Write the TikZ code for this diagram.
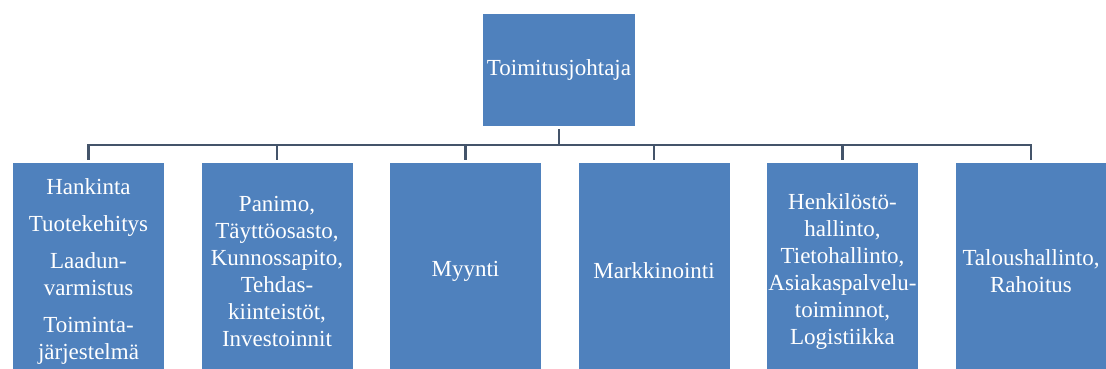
\documentclass[tikz,border=0pt]{standalone}
\usepackage{fontspec}
\setmainfont{Liberation Serif}
\usetikzlibrary{positioning}
\definecolor{boxblue}{RGB}{79,129,189}
\definecolor{linkgray}{RGB}{68,84,106}

\begin{document}
\begin{tikzpicture}[x=1pt, y=-1pt,
    unit/.style={fill=boxblue, text=white, align=center, inner xsep=0pt, minimum width=151pt, minimum height=216pt, outer sep=3pt, font=\fontsize{23}{27}\selectfont},
    link/.style={draw=linkgray, line width=2.5pt},
    node distance=31.5pt
]
\useasboundingbox (0,0) rectangle (1106,369);
\clip (0,0) rectangle (1106,369);

\node[unit, minimum width=152pt, minimum height=112pt] (ceo) at (559,70) {Toimitusjohtaja};

\node[unit] (u1) at (88.5,271) {Hankinta\\[10pt]Tuotekehitys\\[10pt]Laadun-\\varmistus\\[10pt]Toiminta-\\järjestelmä};
\node[unit, right=of u1] (u2) {Panimo,\\Täyttöosasto,\\Kunnossapito,\\Tehdas-\\kiinteistöt,\\Investoinnit};
\node[unit, right=of u2] (u3) {Myynti};
\node[unit, right=of u3] (u4) {Markkinointi};
\node[unit, right=of u4] (u5) {Henkilöstö-\\hallinto,\\Tietohallinto,\\Asiakaspalvelu-\\toiminnot,\\Logistiikka};
\node[unit, right=of u5] (u6) {Taloushallinto,\\Rahoitus};

% ceo to units
\foreach \i in {1,...,6}
    \draw[link] (ceo.south) -- ++(0,16) -| (u\i.north);
\end{tikzpicture}
\end{document}
